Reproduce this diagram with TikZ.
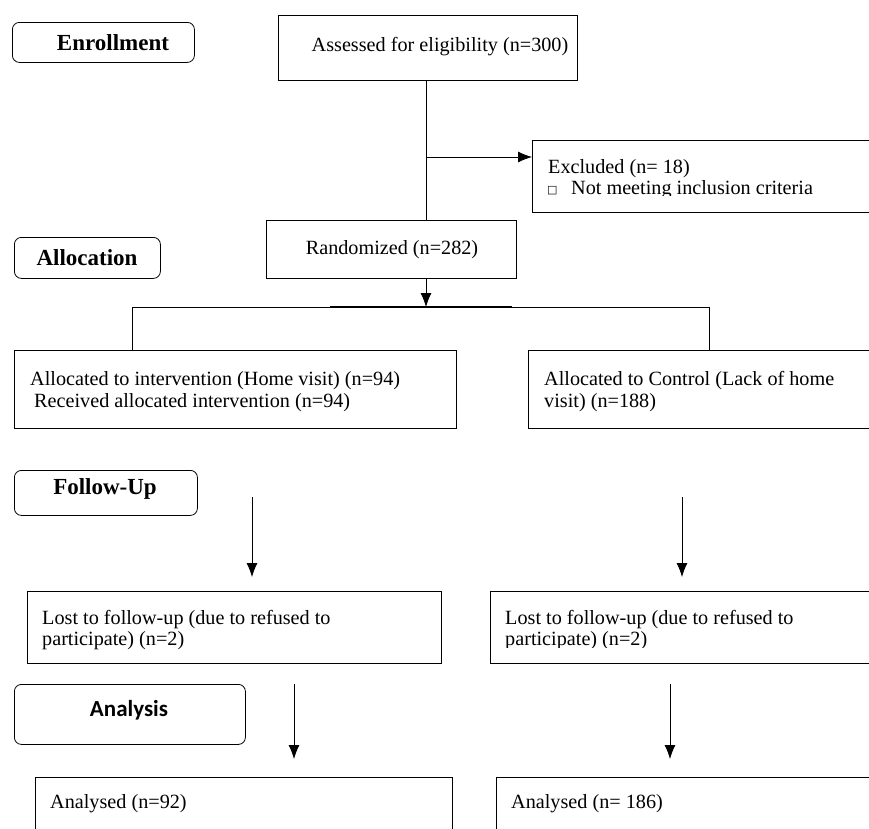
\documentclass[tikz,border=0pt]{standalone}
\usepackage{fontspec}
\setmainfont{Liberation Serif}
\newfontfamily\carlito{Carlito}
\newfontfamily\dejavu{DejaVu Sans}
\usetikzlibrary{arrows.meta}
\begin{document}
\begin{tikzpicture}[x=1pt,y=-1pt,
 box/.style={draw, line width=0.8pt, inner sep=0pt, anchor=north west},
 phase/.style={box, rounded corners=7pt},
 txt/.style={anchor=base west, inner sep=0pt, font=\fontsize{20.2}{23}\selectfont},
 ptxt/.style={anchor=base, inner sep=0pt, font=\fontsize{23}{27}\selectfont\bfseries},
 arr/.style={line width=0.8pt, -{Latex[length=14pt,width=11pt]}},
 ln/.style={line width=0.8pt}]
\useasboundingbox (0,0) rectangle (869,828);
% phase labels
\node[phase, minimum width=182pt, minimum height=40pt] (enroll) at (12,22) {};
\node[ptxt] (enrollT) at (113,50) {Enrollment};
\node[phase, minimum width=146pt, minimum height=41pt] (alloc) at (14,237) {};
\node[ptxt] (allocT) at (87,265) {Allocation};
\node[phase, minimum width=183pt, minimum height=45pt] (follow) at (14,470) {};
\node[ptxt] (followT) at (105,494) {Follow-Up};
\node[phase, minimum width=231pt, minimum height=60pt] (analysis) at (14,684) {};
\node[anchor=base, inner sep=0pt, font=\carlito\fontsize{23}{27}\selectfont\bfseries] (analysisT) at (129,716) {Analysis};
% main boxes
\node[box, minimum width=299pt, minimum height=65pt] (assess) at (278,15) {};
\node[txt, anchor=base] (assessT) at (440,51) {Assessed for eligibility (n=300)};
\node[box, minimum width=350pt, minimum height=72pt] (excl) at (532,140) {};
\node[txt] (exclT) at (548,173) {Excluded (n= 18)};
\begin{scope}
\clip (540,150) rectangle (869,195);
\node[anchor=base west, inner sep=0pt, font=\dejavu\fontsize{11}{12}\selectfont] (bullet) at (547,193) {□};
\node[txt] (exclT2) at (571,194) {Not meeting inclusion criteria};
\end{scope}
\node[box, minimum width=250pt, minimum height=58pt] (rand) at (266,220) {};
\node[txt, anchor=base] (randT) at (392,254) {Randomized (n=282)};
\node[box, minimum width=442pt, minimum height=78pt] (allocL) at (14,350) {};
\node[txt] (allocL1) at (30,385) {Allocated to intervention (Home visit) (n=94)};
\node[txt] (allocL2) at (34,407) {Received allocated intervention (n=94)};
\node[box, minimum width=360pt, minimum height=78pt] (allocR) at (528,350) {};
\node[txt] (allocR1) at (544,385) {Allocated to Control (Lack of home};
\node[txt] (allocR2) at (544,407) {visit) (n=188)};
\node[box, minimum width=414pt, minimum height=72pt] (lostL) at (27,591) {};
\node[txt] (lostL1) at (42,624) {Lost to follow-up (due to refused to};
\node[txt] (lostL2) at (42,645) {participate) (n=2)};
\node[box, minimum width=390pt, minimum height=72pt] (lostR) at (490,591) {};
\node[txt] (lostR1) at (505,624) {Lost to follow-up (due to refused to};
\begin{scope}
\clip (495,630) rectangle (869,647);
\node[txt] (lostR2) at (505,645) {participate) (n=2)};
\end{scope}
\node[box, minimum width=417pt, minimum height=70pt] (anL) at (35,777) {};
\node[txt] (anL1) at (50,808) {Analysed (n=92)};
\node[box, minimum width=390pt, minimum height=70pt] (anR) at (496,777) {};
\node[txt] (anR1) at (511,808) {Analysed (n= 186)};
% connectors
\coordinate (split) at (426,157);
\coordinate (hub) at (426,307);
\coordinate (hubL) at (132,307);
\coordinate (hubR) at (709,307);
\coordinate (thickL) at (330,307);
\coordinate (thickR) at (512,307);
\draw[ln] (assess.south -| split) -- (rand.north -| split);
\draw[arr] (split) -- (excl.west |- split);
\draw[arr] (rand.south -| hub) -- (hub);
\draw[line width=2pt] (thickL) -- (thickR);
\draw[ln] (allocL.north -| hubL) -- (hubL) -- (hubR) -- (allocR.north -| hubR);
\coordinate (fL0) at (252,497);
\coordinate (fL1) at (252,577);
\coordinate (fR0) at (682,497);
\coordinate (fR1) at (682,577);
\draw[arr] (fL0) -- (fL1);
\draw[arr] (fR0) -- (fR1);
\coordinate (aL0) at (294,684);
\coordinate (aL1) at (294,759);
\coordinate (aR0) at (670,684);
\coordinate (aR1) at (670,759);
\draw[arr] (aL0) -- (aL1);
\draw[arr] (aR0) -- (aR1);
\end{tikzpicture}
\end{document}
